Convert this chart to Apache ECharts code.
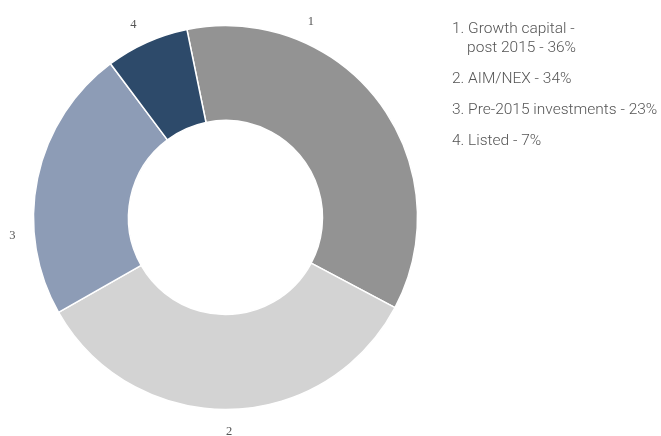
<!DOCTYPE html>
<html>
<head>
<meta charset="utf-8">
<style>
  html, body { margin: 0; padding: 0; background: #ffffff; }
  #chart { width: 661px; height: 436px; }
</style>
<script src="https://cdn.jsdelivr.net/npm/echarts@6/dist/echarts.min.js"></script>
</head>
<body>
<div id="chart"></div>
<script>
// Portfolio split by segment
const categories = ['1', '2', '3', '4'];
const legendNames = ['Growth capital -\npost 2015', 'AIM/NEX', 'Pre-2015 investments', 'Listed'];
const shares = [36, 34, 23, 7];
const colors = ['#939393', '#d3d3d3', '#8d9cb6', '#2d4a6a'];
// angle (degrees clockwise from 12 o'clock) at which each slice number sits
const labelAngles = [23.5, 179, 265, 334.5];

const CX = 225.5, CY = 217.5, R_IN = 97, R_OUT = 192, LABEL_R = 214;

const chart = echarts.init(document.getElementById('chart'), null, { renderer: 'canvas' });

const data = categories.map((c, i) => ({
  name: c,
  value: shares[i],
  itemStyle: { color: colors[i] }
}));

chart.setOption({
  animation: false,
  backgroundColor: '#ffffff',
  legend: {
    orient: 'vertical',
    left: 447,
    top: 19,
    padding: 0,
    itemGap: 11.5,
    itemWidth: 0,
    itemHeight: 0,
    icon: 'none',
    selectedMode: false,
    data: categories,
    formatter: function (name) {
      const i = categories.indexOf(name);
      const txt = (name + '. ' + legendNames[i] + ' - ' + shares[i] + '%');
      return txt.replace('\n', '\n    ');
    },
    textStyle: {
      fontFamily: 'Roboto',
      fontWeight: 300,
      fontSize: 15.5,
      lineHeight: 19.5,
      color: '#555555',
      padding: 0
    }
  },
  series: [{
    type: 'pie',
    center: [CX, CY],
    radius: [R_IN, R_OUT],
    startAngle: 101.6,
    clockwise: true,
    avoidLabelOverlap: false,
    itemStyle: { borderColor: '#ffffff', borderWidth: 1.5 },
    emphasis: { disabled: true },
    label: {
      show: true,
      position: 'outside',
      formatter: '{b}',
      fontFamily: 'Liberation Serif',
      fontSize: 12.5,
      color: '#555555'
    },
    labelLine: { show: false },
    labelLayout: function (params) {
      const a = labelAngles[params.dataIndex] * Math.PI / 180;
      return {
        x: CX + LABEL_R * Math.sin(a),
        y: CY - LABEL_R * Math.cos(a),
        align: 'center',
        verticalAlign: 'middle'
      };
    },
    data: data
  }]
});
</script>
</body>
</html>
